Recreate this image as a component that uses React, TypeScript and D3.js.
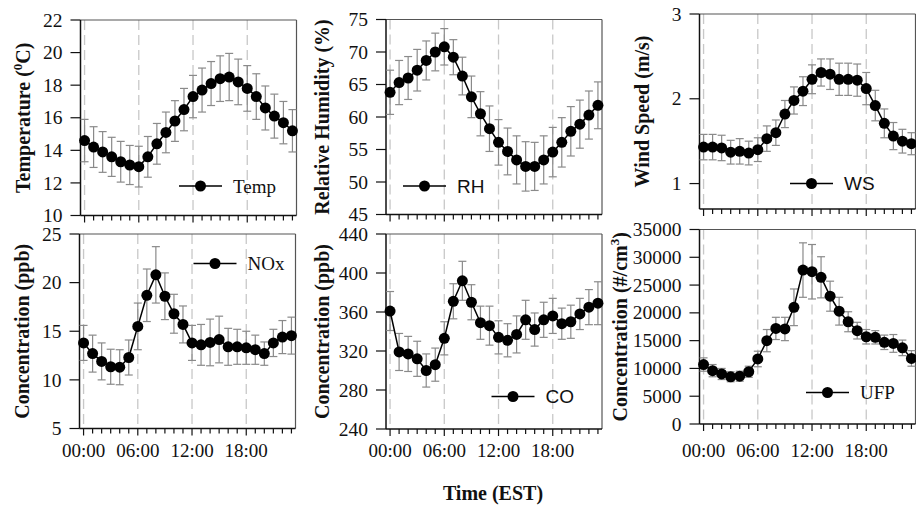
import React from 'react';
import * as d3 from 'd3';

const hours = [0, 1, 2, 3, 4, 5, 6, 7, 8, 9, 10, 11, 12, 13, 14, 15, 16, 17, 18, 19, 20, 21, 22, 23];
const majorHours = [0, 6, 12, 18];
const xTickLabels = ['00:00', '06:00', '12:00', '18:00'];

const tempMean = [14.6, 14.2, 13.9, 13.6, 13.3, 13.1, 13.0, 13.6, 14.4, 15.1, 15.8, 16.5, 17.3, 17.7, 18.1, 18.4, 18.5, 18.2, 17.8, 17.3, 16.6, 16.1, 15.7, 15.2];
const tempErr = [1.3, 1.25, 1.25, 1.2, 1.25, 1.2, 1.25, 1.25, 1.25, 1.25, 1.25, 1.3, 1.3, 1.35, 1.35, 1.4, 1.45, 1.4, 1.4, 1.4, 1.35, 1.35, 1.3, 1.3];
const tempTicks = [10, 12, 14, 16, 18, 20, 22];

const rhMean = [63.8, 65.3, 66.0, 67.2, 68.7, 70.0, 70.8, 69.2, 66.3, 63.1, 60.5, 58.2, 56.1, 54.7, 53.4, 52.4, 52.4, 53.4, 54.6, 56.1, 57.8, 58.9, 60.3, 61.8];
const rhErr = [3.4, 3.4, 3.3, 3.2, 3.0, 2.9, 2.8, 2.7, 2.9, 3.2, 3.4, 3.5, 3.5, 3.6, 3.7, 3.8, 3.7, 3.7, 3.8, 3.8, 3.8, 3.7, 3.7, 3.6];
const rhTicks = [45, 50, 55, 60, 65, 70, 75];

const wsMean = [1.43, 1.43, 1.42, 1.37, 1.38, 1.36, 1.40, 1.53, 1.60, 1.82, 1.98, 2.09, 2.23, 2.31, 2.29, 2.23, 2.23, 2.22, 2.12, 1.92, 1.71, 1.56, 1.50, 1.47];
const wsErr = [0.15, 0.15, 0.15, 0.14, 0.15, 0.14, 0.14, 0.15, 0.15, 0.16, 0.16, 0.17, 0.17, 0.16, 0.18, 0.19, 0.19, 0.19, 0.19, 0.18, 0.17, 0.16, 0.14, 0.13];
const wsTicks = [1, 2, 3];

const noxMean = [13.8, 12.7, 11.9, 11.35, 11.3, 12.3, 15.5, 18.7, 20.8, 18.6, 16.8, 15.7, 13.8, 13.6, 13.85, 14.15, 13.4, 13.4, 13.3, 13.1, 12.7, 13.8, 14.4, 14.55];
const noxErr = [1.8, 1.9, 1.9, 1.8, 1.8, 1.8, 2.4, 2.7, 2.9, 2.4, 2.0, 1.9, 1.8, 2.1, 2.4, 2.4, 1.9, 1.8, 1.7, 1.5, 1.2, 1.4, 1.7, 1.9];
const noxTicks = [5, 10, 15, 20, 25];

const coMean = [361, 319, 317, 312, 300, 306, 333, 371, 392, 370, 349, 346, 334, 331, 337, 352, 342, 352, 356, 348, 350, 358, 365, 369];
const coErr = [20, 19, 18, 18, 17, 17, 17, 18, 20, 18, 17, 20, 17, 17, 19, 20, 17, 18, 18, 16, 17, 16, 18, 22];
const coTicks = [240, 280, 320, 360, 400, 440];

const ufpMean = [10700, 9600, 9000, 8500, 8600, 9400, 11700, 15000, 17200, 17100, 21000, 27700, 27400, 26400, 23000, 20300, 18400, 16800, 15700, 15600, 14700, 14500, 13700, 11800];
const ufpErr = [1200, 1100, 1000, 900, 900, 1000, 1400, 2000, 2000, 2100, 3300, 4900, 4900, 3700, 2700, 2500, 1800, 1500, 1300, 1200, 1300, 1600, 1400, 1400];
const ufpTicks = [0, 5000, 10000, 15000, 20000, 25000, 30000, 35000];

const SERIF = '"Liberation Serif", "Times New Roman", serif';
const SANS = '"Liberation Sans", Arial, sans-serif';

type Panel = {
  mean: number[]; err: number[]; ticks: number[]; domain: [number, number];
  left: number; top: number; bottom: number;
  title: [string, string, string]; titleX: number;
  legend: string; legendFont: string; legX: number; legY: number;
  xLabels: boolean;
};

const W = 216;

const panels: Panel[] = [
  { mean: tempMean, err: tempErr, ticks: tempTicks, domain: [10, 22], left: 80.5, top: 20, bottom: 215.5,
    title: ['Temperature (', '0', 'C)'], titleX: 25, legend: 'Temp', legendFont: SERIF, legX: 179, legY: 186, xLabels: false },
  { mean: rhMean, err: rhErr, ticks: rhTicks, domain: [45, 75], left: 386, top: 19.5, bottom: 214.5,
    title: ['Relative Humidity (%)', '', ''], titleX: 323.5, legend: 'RH', legendFont: SANS, legX: 403, legY: 186, xLabels: false },
  { mean: wsMean, err: wsErr, ticks: wsTicks, domain: [0.7, 3], left: 699.5, top: 14, bottom: 209,
    title: ['Wind Speed (m/s)', '', ''], titleX: 643.5, legend: 'WS', legendFont: SANS, legX: 790, legY: 183.5, xLabels: false },
  { mean: noxMean, err: noxErr, ticks: noxTicks, domain: [5, 25], left: 79.5, top: 234, bottom: 428.5,
    title: ['Concentration (ppb)', '', ''], titleX: 23.5, legend: 'NOx', legendFont: SERIF, legX: 193.5, legY: 263.5, xLabels: true },
  { mean: coMean, err: coErr, ticks: coTicks, domain: [240, 440], left: 386, top: 234, bottom: 429,
    title: ['Concentration (ppb)', '', ''], titleX: 323.5, legend: 'CO', legendFont: SANS, legX: 491.5, legY: 396.5, xLabels: true },
  { mean: ufpMean, err: ufpErr, ticks: ufpTicks, domain: [0, 35000], left: 699.5, top: 229.5, bottom: 424,
    title: ['Concentration (#/cm', '3', ')'], titleX: 621.5, legend: 'UFP', legendFont: SERIF, legX: 806, legY: 392.5, xLabels: true },
];

function PanelView({ p }: { p: Panel }) {
  const x = d3.scaleLinear().domain([-0.45, 23.45]).range([p.left, p.left + W]);
  const y = d3.scaleLinear().domain(p.domain).range([p.bottom, p.top]);
  const line = d3.line<number>().x((_, i) => x(hours[i])).y((d) => y(d));
  const right = p.left + W;
  const cy = (p.top + p.bottom) / 2;
  return (
    <g>
      {majorHours.map((h) => (
        <line key={'g' + h} x1={x(h)} x2={x(h)} y1={p.top} y2={p.bottom} stroke="#c8c8c8" strokeWidth={1.3} strokeDasharray="10,5" />
      ))}
      {/* frame */}
      <line x1={p.left} x2={right} y1={p.top} y2={p.top} stroke="#555" strokeWidth={1.2} />
      <line x1={right} x2={right} y1={p.top} y2={p.bottom} stroke="#555" strokeWidth={1.2} />
      <line x1={p.left} x2={right} y1={p.bottom} y2={p.bottom} stroke="#111" strokeWidth={1.3} />
      <line x1={p.left} x2={p.left} y1={p.top} y2={p.bottom} stroke="#111" strokeWidth={1.5} />
      {/* y ticks */}
      {p.ticks.map((t) => (
        <g key={'y' + t}>
          <line x1={p.left - 10} x2={p.left} y1={y(t)} y2={y(t)} stroke="#111" strokeWidth={1.2} />
          <text x={p.left - 18} y={y(t)} dy="0.34em" textAnchor="end" fontFamily={SERIF} fontSize={19.5} fill="#111">{t}</text>
        </g>
      ))}
      {/* x ticks */}
      {hours.map((h) => (
        <line key={'x' + h} x1={x(h)} x2={x(h)} y1={p.bottom} y2={p.bottom + (h % 6 === 0 ? 7 : 5)} stroke="#111" strokeWidth={1.2} />
      ))}
      {p.xLabels && majorHours.map((h, i) => (
        <text key={'xl' + h} x={x(h)} y={457} textAnchor="middle" fontFamily={SERIF} fontSize={19} fill="#111">{xTickLabels[i]}</text>
      ))}
      {/* error bars */}
      {p.mean.map((m, i) => {
        const xx = x(hours[i]);
        const y1 = y(m + p.err[i]);
        const y2 = y(m - p.err[i]);
        return (
          <g key={'e' + i} stroke="#8a8a8a" strokeWidth={1.2}>
            <line x1={xx} x2={xx} y1={y1} y2={y2} />
            <line x1={xx - 4} x2={xx + 4} y1={y1} y2={y1} />
            <line x1={xx - 4} x2={xx + 4} y1={y2} y2={y2} />
          </g>
        );
      })}
      <path d={line(p.mean) || ''} fill="none" stroke="#000" strokeWidth={1.5} />
      {p.mean.map((m, i) => (
        <circle key={'c' + i} cx={x(hours[i])} cy={y(m)} r={5.5} fill="#000" />
      ))}
      {/* legend */}
      <line x1={p.legX} x2={p.legX + 43} y1={p.legY} y2={p.legY} stroke="#000" strokeWidth={1.5} />
      <circle cx={p.legX + 21.5} cy={p.legY} r={5.5} fill="#000" />
      <text x={p.legX + 54} y={p.legY} dy="0.35em" fontFamily={p.legendFont} fontSize={19} fill="#111">{p.legend}</text>
      {/* y title */}
      <text transform={`translate(${p.titleX + 5},${cy}) rotate(-90)`} textAnchor="middle" fontFamily={SERIF} fontWeight="bold" fontSize={20} fill="#111">
        {p.title[0]}
        {p.title[1] && <tspan dy={-8} fontSize={13}>{p.title[1]}</tspan>}
        {p.title[2] && <tspan dy={p.title[1] ? 8 : 0}>{p.title[2]}</tspan>}
      </text>
    </g>
  );
}

export default function App() {
  return (
    <svg width={916} height={508} style={{ position: 'absolute', left: 0, top: 0, background: '#fff' }}>
      <rect x={0} y={0} width={916} height={508} fill="#fff" />
      {panels.map((p, i) => <PanelView key={i} p={p} />)}
      <text x={493} y={500} textAnchor="middle" fontFamily={SERIF} fontWeight="bold" fontSize={20} fill="#111">Time (EST)</text>
    </svg>
  );
}
